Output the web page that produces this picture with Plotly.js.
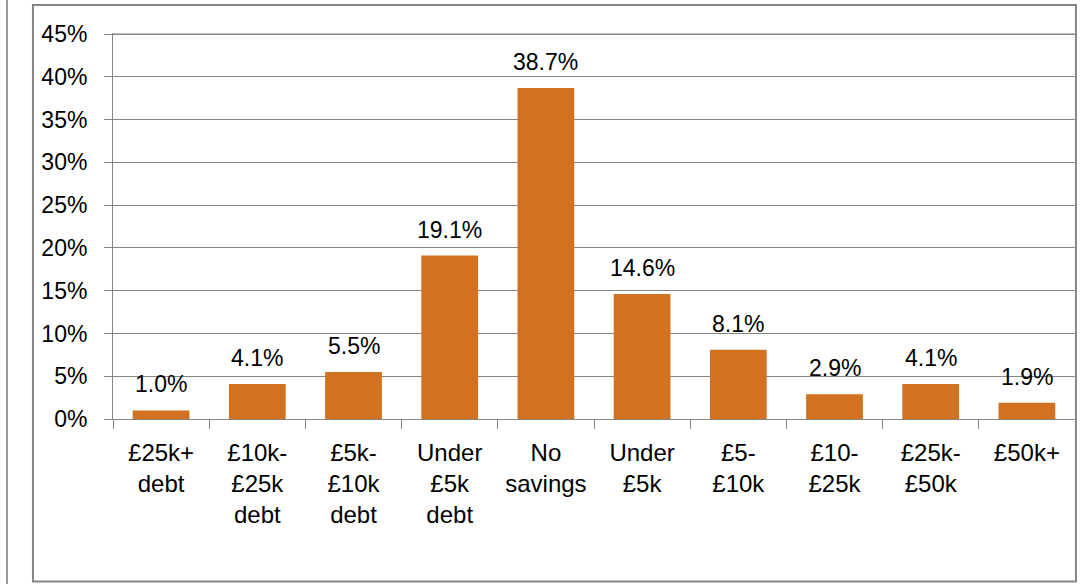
<!DOCTYPE html>
<html>
<head>
<meta charset="utf-8">
<script src="https://cdn.plot.ly/plotly-3.0.1.min.js"></script>
<style>html,body{margin:0;padding:0;background:#fff;}#chart{width:1092px;height:584px;}</style>
</head>
<body>
<div id="chart"></div>
<script>
var categories = ["£25k+<br>debt", "£10k-<br>£25k<br>debt", "£5k-<br>£10k<br>debt", "Under<br>£5k<br>debt", "No<br>savings", "Under<br>£5k", "£5-<br>£10k", "£10-<br>£25k", "£25k-<br>£50k", "£50k+"];
var values = [0.010, 0.041, 0.055, 0.191, 0.387, 0.146, 0.081, 0.029, 0.041, 0.019];
var yTicks = [0, 0.05, 0.10, 0.15, 0.20, 0.25, 0.30, 0.35, 0.40, 0.45];

var FONT = "Liberation Sans, Arial, sans-serif";
var GRAY = "#868686";

var trace = {
  type: "bar",
  x: categories,
  y: values,
  marker: {color: "#D2711F", line: {width: 0}},
  hoverinfo: "none"
};

var annotations = categories.map(function(c, i){
  return {
    x: c, y: values[i], xref: "x", yref: "y",
    text: (values[i]*100).toFixed(1) + "%",
    showarrow: false, yanchor: "bottom", yshift: 11,
    font: {family: FONT, size: 23, color: "#000"}
  };
});

var yMax = yTicks[yTicks.length - 1];

var layout = {
  width: 1092, height: 584,
  margin: {l: 113, r: 17, t: 33, b: 165},
  paper_bgcolor: "#fff", plot_bgcolor: "#fff",
  showlegend: false,
  bargap: 0.41,
  font: {family: FONT, size: 23, color: "#000"},
  xaxis: {
    type: "category",
    showline: true, linecolor: GRAY, linewidth: 1,
    ticks: "outside", tickson: "boundaries", ticklen: 9, tickcolor: GRAY, tickwidth: 1,
    ticklabelstandoff: 12,
    tickfont: {family: FONT, size: 24, color: "#000"},
    showgrid: false, zeroline: false
  },
  yaxis: {
    range: [0, 0.4512],
    tickvals: yTicks,
    tickformat: ".0%",
    showline: true, linecolor: GRAY, linewidth: 1,
    ticks: "outside", ticklen: 8, tickcolor: GRAY, tickwidth: 1,
    ticklabelstandoff: 12,
    showgrid: true, gridcolor: GRAY, gridwidth: 1,
    zeroline: false,
    tickfont: {family: FONT, size: 23, color: "#000"}
  },
  annotations: annotations,
  shapes: [
    {type: "line", xref: "paper", yref: "y", x0: 0, x1: 1, y0: yMax, y1: yMax,
     line: {color: GRAY, width: 1}, layer: "below"},
    {type: "rect", xref: "paper", yref: "paper", x0: -0.0832, x1: 1.001, y0: -0.4208, y1: 1.0727,
     line: {color: GRAY, width: 2}, fillcolor: "rgba(0,0,0,0)", layer: "above"},
    {type: "line", xref: "paper", yref: "paper", x0: -0.1102, x1: -0.1102, y0: -0.43, y1: 1.09,
     line: {color: "#999999", width: 2}}
  ]
};

Plotly.newPlot("chart", [trace], layout, {staticPlot: true, displayModeBar: false});
</script>
</body>
</html>
